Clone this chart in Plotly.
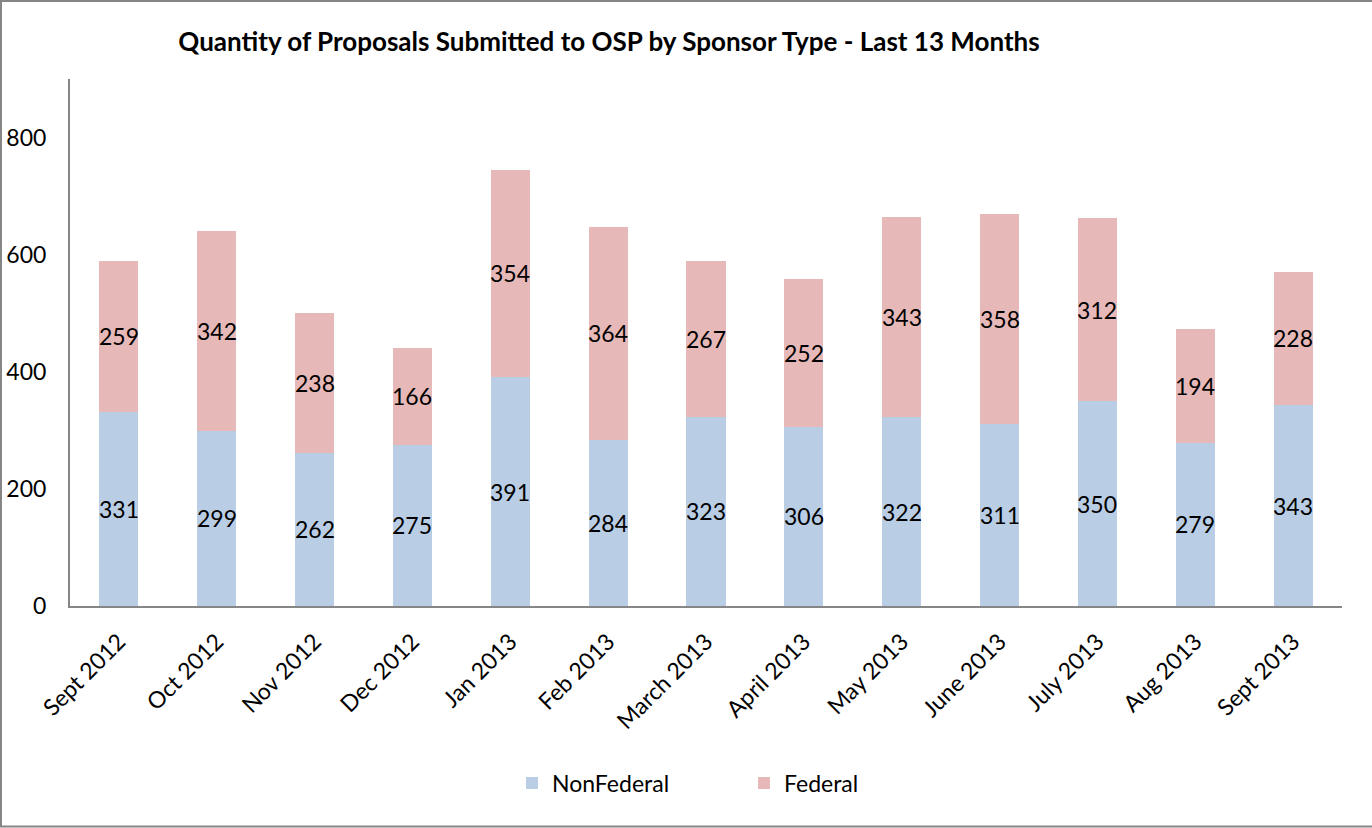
import plotly.graph_objects as go

months = ["Sept 2012", "Oct 2012", "Nov 2012", "Dec 2012", "Jan 2013", "Feb 2013",
          "March 2013", "April 2013", "May 2013", "June 2013", "July 2013", "Aug 2013", "Sept 2013"]
nonfederal = [331, 299, 262, 275, 391, 284, 323, 306, 322, 311, 350, 279, 343]
federal = [259, 342, 238, 166, 354, 364, 267, 252, 343, 358, 312, 194, 228]
yticks = [0, 200, 400, 600, 800]

FONT = "Lato, Calibri, Carlito, sans-serif"
FS = 23
C_NF = "#B9CDE5"
C_F = "#E6B9B8"
AX = "#868686"

fig = go.Figure()
fig.add_trace(go.Bar(name="NonFederal", x=months, y=nonfederal, marker_color=C_NF,
                     marker_line_width=0, hoverinfo="x+y+name"))
fig.add_trace(go.Bar(name="Federal", x=months, y=federal, marker_color=C_F,
                     marker_line_width=0, hoverinfo="x+y+name"))

annotations = []
for m, nf, f in zip(months, nonfederal, federal):
    annotations.append(dict(x=m, y=nf / 2, xref="x", yref="y", text=str(nf), showarrow=False,
                            font=dict(family=FONT, size=FS, color="black")))
    annotations.append(dict(x=m, y=nf + f / 2, xref="x", yref="y", text=str(f), showarrow=False,
                            font=dict(family=FONT, size=FS, color="black")))

L, R, T, B = 70, 30, 79, 222
W, H = 1372, 828
pw, ph = W - L - R, H - T - B

def px2x(px):
    return (px - L) / pw

def py2y(py):
    return (H - B - py) / ph

shapes = [
    dict(type="line", xref="paper", yref="paper", x0=px2x(1), x1=px2x(1), y0=py2y(0), y1=py2y(827),
         line=dict(color=AX, width=2)),
    dict(type="line", xref="paper", yref="paper", x0=px2x(0), x1=px2x(1372), y0=py2y(1), y1=py2y(1),
         line=dict(color=AX, width=2)),
    dict(type="line", xref="paper", yref="paper", x0=px2x(0), x1=px2x(1372), y0=py2y(826.5), y1=py2y(826.5),
         line=dict(color=AX, width=2)),
]

fig.update_layout(
    width=W, height=H,
    barmode="stack", bargap=0.6,
    paper_bgcolor="white", plot_bgcolor="white",
    margin=dict(l=L, r=R, t=T, b=B, pad=0, autoexpand=False),
    font=dict(family=FONT, size=FS, color="black"),
    title=dict(text="<b>Quantity of Proposals Submitted to OSP by Sponsor Type - Last 13 Months</b>",
               x=609 / W, xanchor="center", y=1 - 42 / H, yanchor="middle", yref="container",
               font=dict(family=FONT, size=26, color="black")),
    xaxis=dict(showline=True, linecolor=AX, linewidth=2, ticks="", showgrid=False, tickangle=-45,
               tickfont=dict(family=FONT, size=FS, color="black"), ticklabelstandoff=11, zeroline=False,
               automargin=False),
    yaxis=dict(range=[0, 900], tickvals=yticks, showline=True, linecolor=AX, linewidth=2, ticks="",
               showgrid=False, zeroline=False, tickfont=dict(family=FONT, size=FS, color="black"),
               ticklabelstandoff=17, automargin=False),
    legend=dict(orientation="h", x=px2x(512), xanchor="left", y=py2y(783), yanchor="middle",
                font=dict(family=FONT, size=FS, color="black"), entrywidth=187, entrywidthmode="pixels",
                traceorder="normal"),
    annotations=annotations,
    shapes=shapes,
)

fig.write_html("out.html", config={"displayModeBar": False},
               post_script="document.body.style.margin='0';")
